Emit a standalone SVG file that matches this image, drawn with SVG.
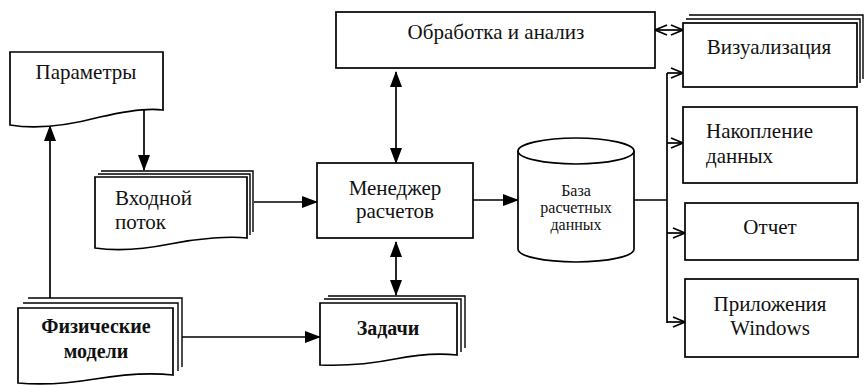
<svg xmlns="http://www.w3.org/2000/svg" width="866" height="386" viewBox="0 0 866 386">
  <style>
    .box { fill: #fff; stroke: #000; stroke-width: 1.7; }
    .sheet { fill: #fff; stroke: #000; stroke-width: 1.4; }
    .ln { fill: none; stroke: #000; stroke-width: 1.7; }
    text { font-family: "Liberation Serif", "Times New Roman", "DejaVu Serif", serif; font-size: 21px; fill: #111; }
    .b { font-weight: bold; font-size: 20px; }
    .sm { font-size: 16px; }
    .mid { text-anchor: middle; }
  </style>
  <defs>
    <marker id="arr" markerUnits="userSpaceOnUse" viewBox="0 0 16 12" markerWidth="16" markerHeight="12" refX="15" refY="6" orient="auto-start-reverse">
      <path d="M0,0 L16,6 L0,12 Z" fill="#000"/>
    </marker>
    <marker id="chev" markerUnits="userSpaceOnUse" viewBox="0 0 14 12" markerWidth="14" markerHeight="12" refX="13" refY="6" orient="auto-start-reverse">
      <path d="M1,1 L13,6 L1,11" fill="none" stroke="#000" stroke-width="1.7"/>
    </marker>
  </defs>

  <!-- connectors -->
  <g id="connectors">
    <line class="ln" x1="144" y1="110" x2="144" y2="170" marker-end="url(#arr)"/>
    <line class="ln" x1="50" y1="298" x2="50" y2="126" marker-end="url(#arr)"/>
    <line class="ln" x1="254" y1="202" x2="317" y2="202" marker-end="url(#arr)"/>
    <line class="ln" x1="182" y1="337" x2="320" y2="337" marker-end="url(#arr)"/>
    <line class="ln" x1="473" y1="200" x2="518" y2="200" marker-end="url(#arr)"/>
    <line class="ln" x1="396" y1="72" x2="396" y2="163" marker-start="url(#arr)" marker-end="url(#arr)"/>
    <line class="ln" x1="396" y1="242" x2="396" y2="295" marker-start="url(#arr)" marker-end="url(#arr)"/>
    <line class="ln" x1="655" y1="30" x2="683" y2="30" marker-start="url(#chev)" marker-end="url(#chev)"/>
    <path class="ln" d="M634,200 H667 M667,73 V323"/>
    <line class="ln" x1="667" y1="73" x2="683" y2="73" marker-end="url(#chev)"/>
    <line class="ln" x1="667" y1="143" x2="683" y2="143" marker-end="url(#chev)"/>
    <line class="ln" x1="667" y1="233" x2="685" y2="233" marker-end="url(#chev)"/>
    <line class="ln" x1="667" y1="322" x2="685" y2="322" marker-end="url(#chev)"/>
  </g>

  <!-- Параметры -->
  <g id="params">
    <path class="box" d="M10,52 H163 V110 C150,108 130,110 100,117 C70,125 40,130 10,125 Z"/>
    <text x="86" y="79" class="mid">Параметры</text>
  </g>

  <!-- Входной поток -->
  <g id="input-stream">
    <path class="sheet" d="M101,171 H253 V232"/>
    <path class="sheet" d="M98,174 H250 V235"/>
    <path class="box" d="M95,177 H247 V238 C230,236 200,238 170,244 C140,250 115,251 95,248 Z"/>
    <text x="115" y="205">Входной</text>
    <text x="115" y="229">поток</text>
  </g>

  <!-- Физические модели -->
  <g id="phys-models">
    <path class="sheet" d="M28,298 H182 V367"/>
    <path class="sheet" d="M23,303 H178 V371"/>
    <path class="box" d="M18,308 H173 V375 C155,373 125,374 95,379 C65,384 40,385 18,383 Z"/>
    <text x="96" y="333" class="mid b">Физические</text>
    <text x="96" y="358" class="mid b">модели</text>
  </g>

  <!-- Обработка и анализ -->
  <g id="processing">
    <rect class="box" x="336" y="12" width="319" height="56"/>
    <text x="496" y="39" class="mid">Обработка и анализ</text>
  </g>

  <!-- Менеджер расчетов -->
  <g id="manager">
    <rect class="box" x="317" y="163" width="156" height="75"/>
    <text x="395" y="195" class="mid">Менеджер</text>
    <text x="395" y="218" class="mid">расчетов</text>
  </g>

  <!-- Задачи -->
  <g id="tasks">
    <path class="sheet" d="M328,296 H465 V348"/>
    <path class="sheet" d="M324,299 H461 V352"/>
    <path class="box" d="M320,303 H457 V355 C440,353 420,354 395,359 C370,364 345,366 320,365 Z"/>
    <text x="388" y="335" class="mid b">Задачи</text>
  </g>

  <!-- База расчетных данных -->
  <g id="database">
    <path class="box" d="M518,151 V249 A58,13 0 0 0 634,249 V151"/>
    <ellipse class="box" cx="576" cy="151" rx="58" ry="13"/>
    <text x="576" y="196" class="mid sm">База</text>
    <text x="576" y="213" class="mid sm">расчетных</text>
    <text x="576" y="230" class="mid sm">данных</text>
  </g>

  <!-- Визуализация -->
  <g id="visualization">
    <path class="sheet" d="M689,15 H863 V79"/>
    <path class="sheet" d="M686,19 H860 V83"/>
    <rect class="box" x="683" y="23" width="174" height="64"/>
    <text x="769" y="54" class="mid">Визуализация</text>
  </g>

  <!-- Накопление данных -->
  <g id="storage">
    <rect class="box" x="683" y="107" width="174" height="76"/>
    <text x="706" y="138">Накопление</text>
    <text x="706" y="163">данных</text>
  </g>

  <!-- Отчет -->
  <g id="report">
    <rect class="box" x="685" y="203" width="173" height="57"/>
    <text x="770" y="234" class="mid">Отчет</text>
  </g>

  <!-- Приложения Windows -->
  <g id="windows-apps">
    <rect class="box" x="685" y="279" width="173" height="78"/>
    <text x="770" y="311" class="mid">Приложения</text>
    <text x="770" y="335" class="mid">Windows</text>
  </g>
</svg>
